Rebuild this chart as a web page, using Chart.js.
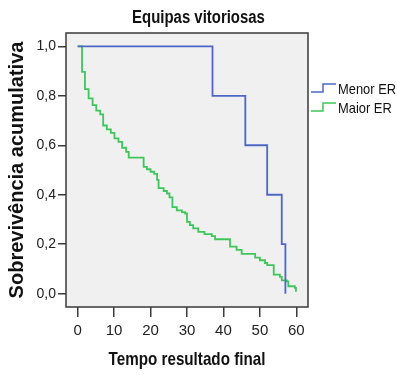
<!DOCTYPE html>
<html>
<head>
<meta charset="utf-8">
<script src="https://cdn.jsdelivr.net/npm/chart.js@4.4.0/dist/chart.umd.min.js"></script>
<style>
  html, body { margin: 0; padding: 0; background: #fff; }
</style>
</head>
<body>
<canvas id="km" width="397" height="375"></canvas>
<script>
const chartTitle = 'Equipas vitoriosas';
const xTitle = 'Tempo resultado final';
const yTitle = 'Sobrevivência acumulativa';
const seriesNames = ['Menor ER', 'Maior ER'];
const seriesColors = ['#4f67c4', '#3fc65a'];

// Kaplan-Meier steps: time of each drop and survival after it
const menorTimes = [0, 37, 46, 52, 56, 57];
const menorSurv = [1.0, 0.8, 0.6, 0.4, 0.2, 0.0];

const maiorTimes = [0, 1.2, 2, 3, 4.1, 5.1, 6.2, 7, 8, 9.1, 10.1, 11.2, 12.2, 13.3, 14,
  18.1, 19, 20, 21, 21.8, 22.2, 23.6, 24.5, 25.2, 26, 27.2, 28.6, 29.5, 30, 30.8, 31.7,
  33.1, 34.8, 36.8, 37.7, 41.8, 43.6, 45, 48.7, 50, 51.4, 52, 53.8, 55.5, 56, 57.4,
  57.8, 59.6, 59.9];
const maiorSurv = [1.0, 0.897, 0.827, 0.79, 0.762, 0.74, 0.725, 0.68, 0.664, 0.65, 0.628,
  0.614, 0.59, 0.573, 0.55, 0.513, 0.503, 0.493, 0.484, 0.46, 0.427, 0.415, 0.405, 0.389,
  0.35, 0.337, 0.33, 0.324, 0.29, 0.277, 0.264, 0.25, 0.241, 0.233, 0.22, 0.19, 0.177,
  0.161, 0.146, 0.135, 0.124, 0.115, 0.077, 0.068, 0.054, 0.05, 0.03, 0.023, 0.008];

const xTicks = [0, 10, 20, 30, 40, 50, 60];
const yTicks = [0, 0.2, 0.4, 0.6, 0.8, 1.0];

const SANS = "'Liberation Sans', Arial, sans-serif";

const toPoints = (times, surv) => times.map((t, i) => ({ x: t, y: surv[i] }));

// the reference uses a narrow face; squeeze Liberation Sans horizontally
function narrowText(ctx, text, x, y, font, squeeze, align) {
  ctx.save();
  ctx.font = font;
  ctx.textAlign = align;
  ctx.textBaseline = 'middle';
  ctx.translate(x, y);
  ctx.scale(squeeze, 1);
  ctx.fillText(text, 0, 0);
  ctx.restore();
}

const plotFrame = {
  id: 'plotFrame',
  beforeDraw(chart) {
    const { ctx, chartArea: a } = chart;
    ctx.save();
    ctx.fillStyle = '#f0f0f0';
    ctx.fillRect(a.left, a.top, a.right - a.left, a.bottom - a.top);
    ctx.restore();
  },
  afterDraw(chart) {
    const { ctx, chartArea: a } = chart;
    ctx.save();
    ctx.strokeStyle = '#3a3a3a';
    ctx.lineWidth = 1.5;
    ctx.strokeRect(a.left, a.top, a.right - a.left, a.bottom - a.top);
    ctx.fillStyle = '#111';

    narrowText(ctx, chartTitle, chart.width / 2, 18, `bold 18px ${SANS}`, 0.83, 'center');
    narrowText(ctx, xTitle, (a.left + a.right) / 2, 360, `bold 19px ${SANS}`, 0.8, 'center');

    // legend with step icons
    chart.data.datasets.forEach((ds, i) => {
      const y = 90 + i * 19;
      ctx.strokeStyle = ds.borderColor;
      ctx.lineWidth = 1.5;
      ctx.beginPath();
      ctx.moveTo(311, y + 2);
      ctx.lineTo(323, y + 2);
      ctx.lineTo(323, y - 6);
      ctx.lineTo(336, y - 6);
      ctx.stroke();
      narrowText(ctx, ds.label, 338, y, `15px ${SANS}`, 0.86, 'left');
    });
    ctx.restore();
  }
};

const tickGrid = {
  drawOnChartArea: false,
  drawTicks: true,
  color: '#3a3a3a',
  lineWidth: 1.5
};

new Chart(document.getElementById('km'), {
  type: 'line',
  data: {
    datasets: [
      { label: seriesNames[0], data: toPoints(menorTimes, menorSurv), borderColor: seriesColors[0] },
      { label: seriesNames[1], data: toPoints(maiorTimes, maiorSurv), borderColor: seriesColors[1] }
    ].map(ds => ({ ...ds, stepped: true, borderWidth: 1.8, pointRadius: 0, fill: false }))
  },
  options: {
    responsive: false,
    animation: false,
    devicePixelRatio: 1,
    layout: { padding: { top: 33, right: 89, left: 0, bottom: 0 } },
    plugins: {
      legend: { display: false },
      tooltip: { enabled: false },
      title: { display: false }
    },
    scales: {
      x: {
        type: 'linear',
        min: -3.2,
        max: 63.2,
        afterBuildTicks: scale => { scale.ticks = xTicks.map(v => ({ value: v })); },
        afterFit: scale => { scale.height = 68; },
        grid: { ...tickGrid, tickLength: 10 },
        border: { display: false },
        ticks: { color: '#222', padding: 5, font: { family: SANS, size: 15 } },
        title: { display: false }
      },
      y: {
        type: 'linear',
        min: -0.054,
        max: 1.054,
        afterBuildTicks: scale => { scale.ticks = yTicks.map(v => ({ value: v })); },
        afterFit: scale => { scale.width = 66; },
        grid: { ...tickGrid, tickLength: 8 },
        border: { display: false },
        ticks: {
          color: '#222',
          padding: 2,
          font: { family: SANS, size: 14 },
          callback: v => v.toFixed(1).replace('.', ',')
        },
        title: {
          display: true,
          text: yTitle,
          color: '#111',
          font: { family: SANS, size: 20, weight: 'bold' },
          padding: { top: 5, bottom: 0 }
        }
      }
    }
  },
  plugins: [plotFrame]
});
</script>
</body>
</html>
